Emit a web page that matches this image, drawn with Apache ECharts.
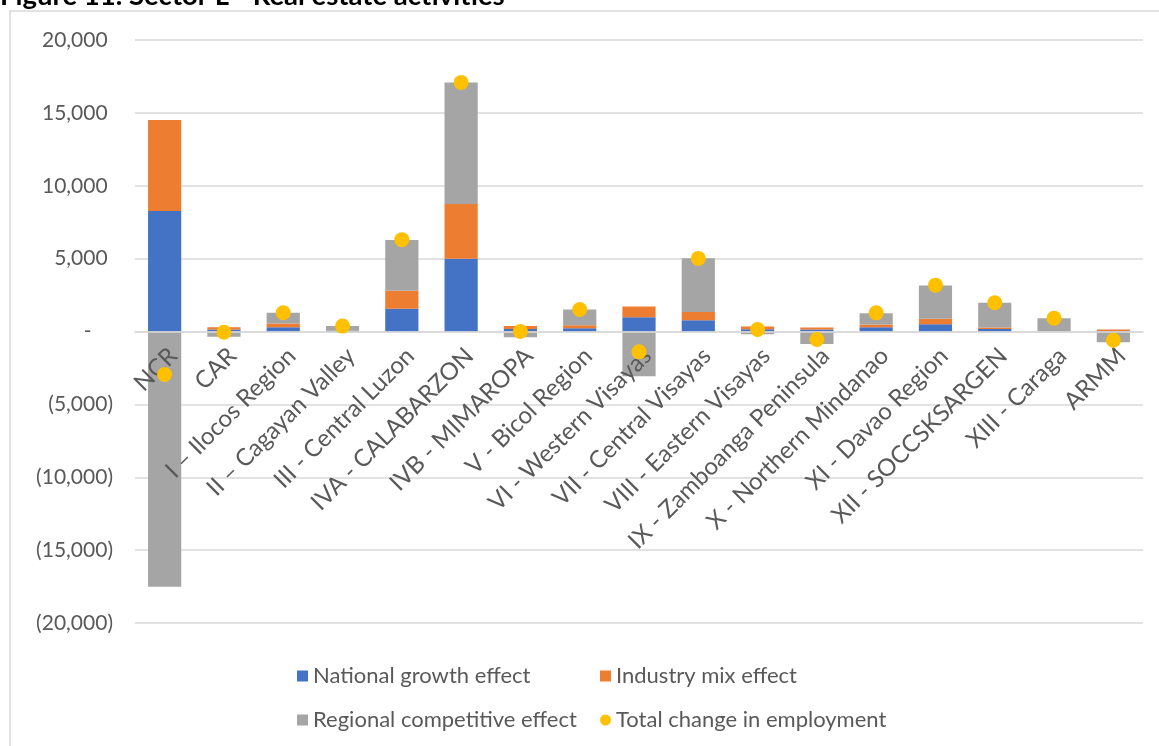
<!DOCTYPE html>
<html>
<head>
<meta charset="utf-8">
<script src="https://cdn.jsdelivr.net/npm/echarts@6/dist/echarts.min.js"></script>
<style>
  html, body { margin: 0; padding: 0; background: #fff; }
  #chart { width: 1159px; height: 746px; }
</style>
</head>
<body>
<div id="chart"></div>
<script>
// regions
var regions = ['NCR', 'CAR', 'I \u2013 Ilocos Region', 'II \u2013 Cagayan Valley', 'III - Central Luzon',
  'IVA - CALABARZON', 'IVB - MIMAROPA', 'V - Bicol Region', 'VI - Western Visayas', 'VII - Central Visayas',
  'VIII - Eastern Visayas', 'IX - Zamboanga Peninsula', 'X - Northern Mindanao', 'XI - Davao Region',
  'XII - SOCCSKSARGEN', 'XIII - Caraga', 'ARMM'];

// shift-share components
var nationalGrowth = [8260, 140, 300, 30, 1560, 5000, 170, 230, 985, 780, 160, 130, 300, 500, 180, 10, 30];
var industryMix    = [6250, 160, 250, 20, 1240, 3750, 200, 200, 730, 550, 180, 140, 180, 370, 90, 10, 100];
var regionalComp   = [-17520, -360, 735, 330, 3480, 8340, -390, 1080, -3070, 3690, -190, -850, 780, 2290, 1700, 895, -735];
var totalChange    = [-2950, -50, 1285, 370, 6300, 17090, 0, 1510, -1395, 5015, 140, -550, 1280, 3180, 1970, 915, -600];

var yTicks = { min: -20000, max: 20000, step: 5000 };

function fmtAcct(v) {
  if (v === 0) return '-    ';
  var s = Math.abs(v).toLocaleString('en-US');
  return v < 0 ? '(' + s + ')' : s + ' ';
}

var txt = '#595959';
var font = 'Lato';

var gridTop = 40, gridBottom = 123, H = 746;
// put the category axis on the zero line
var plotH = H - gridTop - gridBottom;
var zeroOffset = -plotH * (0 - yTicks.min) / (yTicks.max - yTicks.min);

var chart = echarts.init(document.getElementById('chart'));

function legendItem(name, icon, left, top) {
  return {
    data: [{ name: name, icon: icon }],
    left: left, top: top, padding: 0,
    itemWidth: 11, itemHeight: 11, itemGap: 4,
    textStyle: { color: txt, fontSize: 22, fontFamily: font },
    selectedMode: false
  };
}

chart.setOption({
  animation: false,
  graphic: [
    {
      type: 'rect',
      shape: { x: 10, y: 11, width: 1170, height: 760 },
      style: { fill: 'none', stroke: '#d9d9d9', lineWidth: 1.5 }
    },
    {
      type: 'text',
      left: 0, top: -18,
      style: {
        text: 'Figure 11. Sector L - Real estate activities',
        fill: '#000', font: 'bold 27.5px ' + font
      }
    }
  ],
  grid: { left: 135, right: 16, top: gridTop, bottom: gridBottom, outerBoundsMode: 'none' },
  legend: [
    legendItem('National growth effect', 'rect', 297, 665),
    legendItem('Industry mix effect', 'rect', 600, 665),
    legendItem('Regional competitive effect', 'rect', 297, 709),
    legendItem('Total change in employment', 'circle', 600, 709)
  ],
  xAxis: {
    type: 'category',
    data: regions,
    offset: zeroOffset,
    z: 3,
    axisLine: { onZero: false, lineStyle: { color: '#d9d9d9', width: 1.5 } },
    axisTick: { show: false },
    axisLabel: {
      rotate: 45, interval: 0, color: txt, fontSize: 24, fontFamily: font,
      margin: 12, verticalAlign: 'top'
    }
  },
  yAxis: {
    type: 'value',
    min: yTicks.min, max: yTicks.max, interval: yTicks.step,
    axisLine: { show: false },
    axisTick: { show: false },
    splitLine: { lineStyle: { color: '#d9d9d9', width: 1.5 } },
    axisLabel: { color: txt, fontSize: 21, fontFamily: font, margin: 22, formatter: fmtAcct }
  },
  series: [
    {
      name: 'National growth effect', type: 'bar', stack: 'ss', barWidth: '56%',
      itemStyle: { color: '#4472C4' }, data: nationalGrowth
    },
    {
      name: 'Industry mix effect', type: 'bar', stack: 'ss',
      itemStyle: { color: '#ED7D31' }, data: industryMix
    },
    {
      name: 'Regional competitive effect', type: 'bar', stack: 'ss',
      itemStyle: { color: '#A5A5A5' }, data: regionalComp
    },
    {
      name: 'Total change in employment', type: 'scatter', symbol: 'circle', symbolSize: 15, z: 5,
      itemStyle: { color: '#FFC000', opacity: 1 }, data: totalChange
    }
  ]
});
</script>
</body>
</html>
